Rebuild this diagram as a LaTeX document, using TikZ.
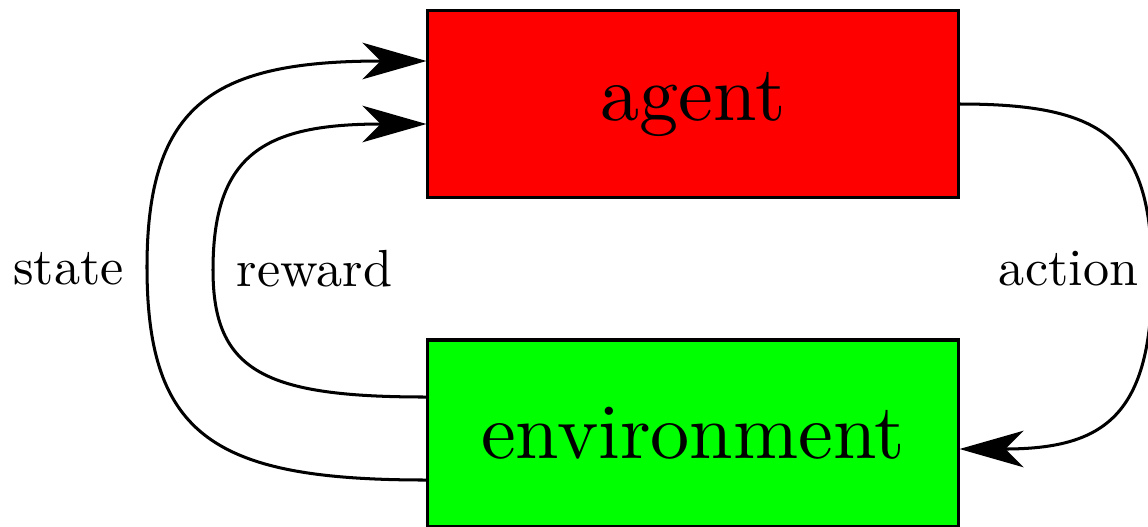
\documentclass[tikz,border=0pt]{standalone}
\usepackage{fontspec}
\usetikzlibrary{arrows.meta,calc}
% Latin Modern at its 10pt design size, scaled up for every size
\newfontfamily\tenrm{lmroman10-regular.otf}
\begin{document}
\begin{tikzpicture}[
    x=0.3311pt, y=-0.3311pt,
    line width=1pt,
    box/.style={draw=black, rectangle, inner sep=0pt,
                minimum width=175.5pt, minimum height=61.6pt,
                font=\tenrm\fontsize{25.9}{31}\selectfont},
    lbl/.style={inner sep=0pt, font=\tenrm\LARGE},
    flow/.style={-{Stealth[length=21.2pt, width=12.1pt, inset=6pt]}}
  ]
  % page frame
  \useasboundingbox (0,0) rectangle (1148,526);
  \clip (0,0) rectangle (1148,526);

  % the two blocks
  \node[box, fill=red]   (agent) at (693,104) {agent};
  \node[box, fill=green] (env)   at (693,433) {environment};

  % edge labels
  \node[lbl] (state)  at (68.5,268.5)   {state};
  \node[lbl] (reward) at (314.5,268.5)  {reward};
  \node[lbl] (action) at (1068.5,268.5) {action};

  % attachment points on the block borders and turning points of the loops
  \coordinate (sOut) at ($(env.west)+(0,47)$);
  \coordinate (sIn)  at ($(agent.west)+(0,-43)$);
  \coordinate (sMid) at (147,267);
  \coordinate (rOut) at ($(env.west)+(0,-36)$);
  \coordinate (rIn)  at ($(agent.west)+(0,20)$);
  \coordinate (rMid) at (213,270);
  \coordinate (aOut) at (agent.east);
  \coordinate (aIn)  at ($(env.east)+(0,16)$);
  \coordinate (aMid) at (1152,276.5);

  % state: environment -> agent (outer loop)
  \draw[flow] (sOut) .. controls +(-211,0) and +(0,170) .. (sMid)
                     .. controls +(0,-165) and +(-211,0) .. (sIn);
  % reward: environment -> agent (inner loop)
  \draw[flow] (rOut) .. controls +(-161,0) and +(0,102) .. (rMid)
                     .. controls +(0,-117) and +(-161,0) .. (rIn);
  % action: agent -> environment
  \draw[flow] (aOut) .. controls +(146,0) and +(0,-138) .. (aMid)
                     .. controls +(0,138) and +(146,0) .. (aIn);
\end{tikzpicture}
\end{document}
